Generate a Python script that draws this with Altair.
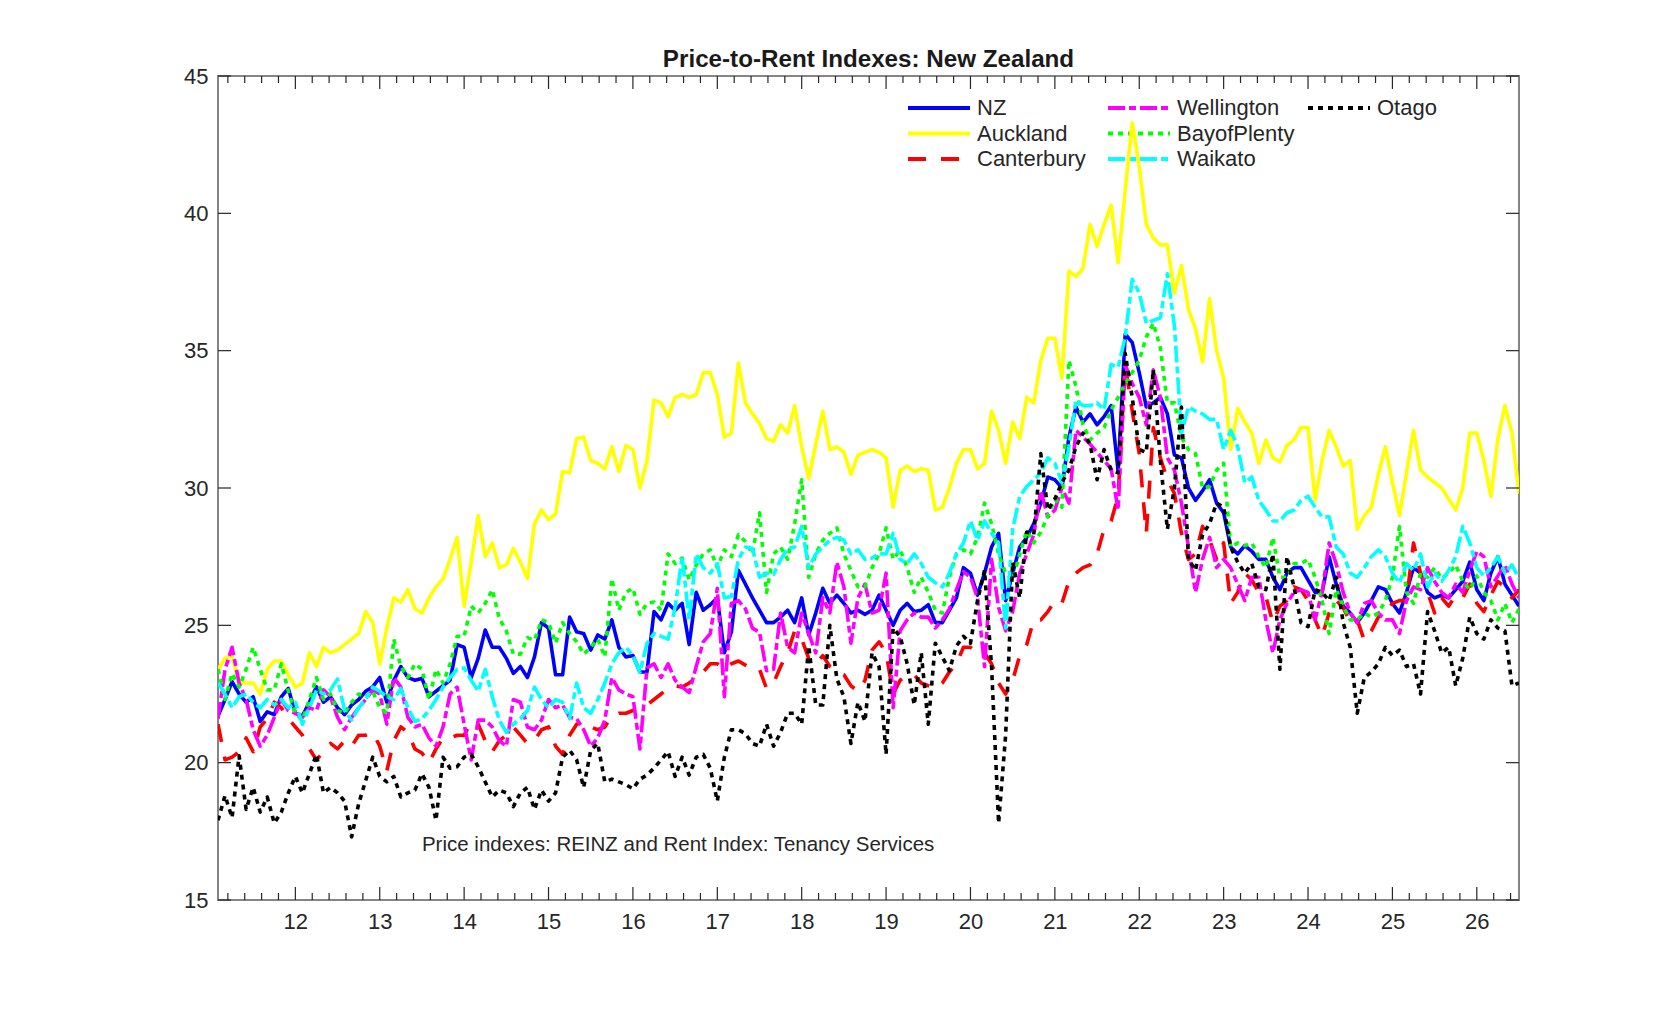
import altair as alt
import pandas as pd

FONT = "Liberation Sans, Arial, Helvetica, sans-serif"
TXT = "#262626"

TITLE = "Price-to-Rent Indexes: New Zealand"
NOTE = "Price indexes: REINZ and Rent Index: Tenancy Services"

SERIES = ["NZ", "Auckland", "Canterbury", "Wellington", "BayofPlenty", "Waikato", "Otago"]
COLORS = ["#0000ff", "#ffff00", "#ff0000", "#ff00ff", "#00ff00", "#00ffff", "#000000"]
DASHES = [[1, 0], [1, 0], [18, 15], [17, 4, 7, 4], [5, 5], [17, 4, 7, 4], [5, 5]]

# monthly observations, Feb 2011 .. Jul 2026 (one line per calendar year)
FIRST_YEAR, FIRST_MONTH = 2011, 2

NZ = [
    21.7, 22.3, 22.95, 22.5, 22.2, 22.4, 21.5, 21.85, 21.75, 22.4, 22.7,
    21.8, 21.7, 22.2, 22.76, 22.2, 22.4, 22.0, 21.75, 22.1, 22.3, 22.6, 22.76,
    23.1, 22.2, 23.0, 23.5, 23.1, 23.0, 23.07, 22.4, 22.6, 22.8, 23.0, 24.3,
    24.2, 23.1, 23.8, 24.83, 24.2, 24.2, 23.8, 23.25, 23.5, 23.1, 23.85, 25.1,
    24.9, 23.2, 23.2, 25.3, 24.76, 24.7, 24.1, 24.65, 24.5, 25.2, 24.2, 23.85,
    23.9, 23.3, 23.3, 25.5, 25.2, 25.8, 25.55, 25.8, 24.3, 26.2, 25.55, 25.75,
    26.0, 24.0, 24.76, 27.0, 26.5, 26.0, 25.55, 25.1, 25.1, 25.3, 25.55, 25.1,
    26.0, 24.65, 25.45, 26.35, 25.8, 26.1, 25.8, 25.45, 25.55, 25.4, 25.55, 26.1,
    25.55, 25.0, 25.55, 25.8, 25.5, 25.55, 25.75, 25.1, 25.1, 25.55, 26.0, 27.1,
    26.9, 26.1, 26.9, 27.85, 28.35, 25.9, 26.9, 27.85, 28.2, 28.7, 29.45, 30.4,
    30.3, 30.0, 31.85, 32.95, 32.4, 32.7, 32.3, 32.6, 33.0, 30.6, 35.6, 35.3,
    34.2, 32.95, 33.1, 33.3, 32.7, 31.2, 31.1, 30.0, 29.55, 29.9, 30.3, 29.45,
    29.1, 27.85, 27.6, 27.9, 27.7, 27.4, 27.4, 26.75, 26.3, 26.9, 27.1, 27.1,
    26.65, 26.2, 26.2, 27.5, 26.5, 25.7, 25.45, 25.1, 25.45, 25.9, 26.4, 26.3,
    25.8, 25.45, 26.2, 27.1, 26.9, 26.2, 26.0, 26.1, 26.0, 26.3, 26.6, 27.3,
    26.3, 25.9, 26.9, 27.5, 26.5, 26.1, 25.7,
]

AUCKLAND = [
    23.4, 23.8, 23.9, 22.9, 22.9, 22.9, 22.5, 23.4, 23.7, 23.7, 23.2,
    22.75, 22.9, 24.0, 23.5, 24.2, 24.0, 24.1, 24.3, 24.5, 24.7, 25.5, 25.1,
    23.6, 24.9, 26.0, 25.85, 26.3, 25.6, 25.45, 26.0, 26.4, 26.7, 27.4, 28.2,
    25.7, 27.3, 29.0, 27.5, 28.0, 27.1, 27.2, 27.8, 27.3, 26.7, 28.7, 29.2,
    28.85, 29.05, 30.6, 30.55, 31.8, 31.85, 31.0, 30.9, 30.7, 31.5, 30.6, 31.55,
    31.4, 30.0, 31.0, 33.2, 33.1, 32.6, 33.3, 33.4, 33.3, 33.4, 34.2, 34.2,
    33.4, 31.85, 32.0, 34.55, 33.1, 32.7, 32.35, 31.8, 31.7, 32.3, 32.0, 33.0,
    31.5, 30.35, 31.6, 32.8, 31.4, 31.5, 31.3, 30.5, 31.2, 31.3, 31.4, 31.3,
    31.1, 29.3, 30.65, 30.8, 30.6, 30.7, 30.65, 29.2, 29.3, 30.0, 30.9, 31.4,
    31.4, 30.7, 30.9, 32.8, 32.1, 30.9, 32.4, 31.8, 33.3, 33.1, 34.65, 35.45,
    35.45, 34.0, 37.9, 37.7, 38.0, 39.6, 38.8, 39.6, 40.3, 38.2, 40.85, 43.3,
    41.7, 39.6, 39.1, 38.85, 38.85, 37.1, 38.1, 36.5, 35.8, 34.6, 36.9, 35.0,
    34.0, 31.4, 32.9, 32.4, 32.0, 30.9, 31.75, 31.1, 30.95, 31.55, 31.75, 32.2,
    32.2, 29.55, 31.0, 32.1, 31.5, 30.8, 31.0, 28.5, 29.0, 29.3, 30.5, 31.5,
    30.2, 29.0, 30.55, 32.1, 30.65, 30.4, 30.2, 30.0, 29.6, 29.2, 30.0, 32.0,
    32.0, 31.0, 29.7, 31.8, 33.0, 32.0, 29.8,
]

CANTERBURY = [
    21.4, 20.1, 20.2, 20.4, 20.9, 20.4, 21.3, 21.6, 22.2, 22.0, 21.6,
    21.3, 21.0, 20.5, 20.1, 20.4, 20.7, 20.5, 20.8, 20.6, 21.0, 21.0, 21.1,
    20.6, 19.7, 20.8, 21.3, 21.1, 20.5, 20.35, 20.0, 20.5, 20.9, 20.9, 21.0,
    21.0, 21.5, 21.4, 20.8, 20.4, 20.8, 21.0, 21.3, 21.0, 20.7, 20.8, 21.2,
    21.3, 20.6, 20.3, 21.0, 21.4, 21.5, 21.3, 21.2, 21.3, 21.7, 21.8, 21.8,
    21.9, 22.0, 22.1, 22.3, 22.5, 22.7, 22.8, 22.75, 22.9, 23.1, 23.3, 23.6,
    23.6, 23.4, 23.6, 23.7, 23.55, 23.4, 23.4, 22.7, 22.9, 23.5, 24.0, 24.8,
    24.5, 23.8, 23.6, 23.9, 23.5, 23.3, 23.2, 22.8, 22.6, 23.0, 24.1, 24.4,
    24.0, 22.5, 23.0, 23.2, 23.2, 22.9, 22.8, 22.7, 22.9, 23.3, 23.6, 24.2,
    24.2, 24.0, 24.0, 23.6, 22.9, 22.5, 23.0, 23.9, 24.3, 25.2, 25.2, 25.5,
    25.9, 25.8, 26.6, 26.9, 27.1, 27.2, 27.6, 28.5, 28.8, 29.7, 34.5, 32.8,
    31.25, 28.35, 32.2, 31.1, 30.3, 29.8, 28.35, 27.4, 27.6, 28.6, 28.1, 27.4,
    28.0, 25.8, 26.2, 26.9, 26.65, 26.2, 26.05, 25.1, 25.7, 25.9, 26.4, 26.3,
    25.9, 25.2, 24.6, 25.45, 25.9, 25.65, 25.1, 25.2, 24.45, 24.8, 25.3, 25.45,
    25.8, 25.9, 25.9, 28.0, 26.9, 26.2, 25.45, 26.0, 25.7, 26.1, 26.0, 26.5,
    25.8, 25.5, 26.1, 26.6, 26.4, 26.0, 26.3,
]

WELLINGTON = [
    21.6, 23.4, 24.2, 22.9, 22.3, 21.2, 20.6, 21.0, 21.65, 22.3, 21.9,
    21.8, 21.65, 22.0, 21.9, 22.65, 22.4, 21.65, 21.2, 21.65, 22.0, 22.3, 22.65,
    22.5, 21.4, 23.1, 22.75, 21.65, 21.3, 21.4, 20.9, 20.6, 21.3, 22.5, 22.75,
    21.4, 20.1, 21.55, 21.55, 21.3, 20.8, 20.6, 22.3, 22.2, 21.3, 21.2, 21.55,
    22.3, 22.0, 22.1, 21.65, 21.6, 21.2, 20.6, 20.9, 21.55, 23.1, 22.65, 22.5,
    22.4, 20.5, 23.45, 23.6, 23.1, 23.6, 23.0, 22.75, 22.55, 23.5, 24.4, 24.7,
    26.35, 22.4, 25.8, 25.9, 25.6, 24.9, 24.75, 23.35, 23.4, 25.45, 24.2, 24.0,
    25.45, 24.7, 24.0, 26.0, 25.45, 27.3, 26.4, 24.35, 26.0, 26.5, 25.45, 25.55,
    26.9, 22.0, 24.8, 25.2, 25.45, 25.3, 25.3, 24.9, 25.2, 25.6, 26.3, 26.95,
    26.75, 26.0, 23.5, 27.4, 25.65, 24.8, 25.5, 26.9, 27.6, 28.3, 29.9, 28.95,
    29.2, 30.0, 29.45, 32.1, 31.85, 31.6, 31.3, 31.0, 30.7, 29.2, 34.5, 33.8,
    33.3, 32.3, 34.3, 33.3, 31.1, 30.65, 29.45, 27.85, 26.2, 27.4, 28.2, 27.1,
    27.4, 27.1, 26.5, 25.9, 26.75, 26.75, 25.2, 24.0, 25.2, 25.8, 26.2, 26.3,
    26.2, 25.2, 26.2, 28.0, 27.25, 26.2, 25.45, 25.1, 25.8, 25.9, 25.45, 25.2,
    25.2, 24.7, 25.9, 26.4, 26.3, 27.1, 26.6, 26.2, 26.0, 26.5, 26.2, 27.0,
    27.7, 27.5, 26.4, 26.8, 27.2, 26.5, 26.0,
]

BAYOFPLENTY = [
    23.4, 22.3, 23.25, 22.75, 23.4, 24.2, 23.4, 22.65, 22.65, 23.6, 22.6,
    21.8, 21.55, 22.3, 23.1, 22.3, 22.5, 21.9, 21.8, 22.2, 22.5, 22.4, 22.6,
    22.0, 21.8, 24.5, 23.5, 23.1, 23.6, 23.4, 22.3, 23.4, 22.9, 23.6, 24.6,
    24.6, 25.7, 25.45, 25.8, 26.3, 25.25, 24.8, 23.95, 23.95, 24.55, 24.45, 25.2,
    25.1, 24.35, 25.1, 24.7, 24.4, 23.95, 24.2, 24.5, 23.85, 26.7, 25.55, 26.2,
    26.35, 25.4, 25.8, 25.85, 25.55, 27.6, 27.25, 27.45, 26.65, 27.2, 27.6, 27.75,
    27.1, 27.75, 27.5, 28.3, 28.05, 27.6, 29.1, 26.2, 27.6, 27.85, 27.4, 28.7,
    30.3, 26.75, 27.6, 28.1, 28.35, 28.55, 27.6, 27.0, 26.4, 26.4, 27.1, 27.6,
    28.55, 27.4, 27.75, 27.1, 26.2, 26.75, 26.2, 25.55, 25.45, 26.75, 27.6, 27.75,
    27.6, 28.2, 29.45, 28.7, 27.6, 26.9, 26.65, 27.6, 28.45, 28.0, 28.4, 29.0,
    29.6, 29.3, 34.65, 33.7, 32.3, 31.75, 32.0, 32.2, 32.85, 33.3, 33.8, 34.2,
    34.65, 35.5, 36.0, 35.1, 33.1, 33.1, 31.85, 31.4, 31.25, 30.0, 30.05, 30.65,
    30.9, 27.85, 28.0, 27.9, 28.0, 27.5, 27.1, 28.2, 26.75, 26.75, 27.25, 27.25,
    27.4, 26.75, 25.9, 24.7, 26.3, 25.7, 25.2, 25.2, 25.45, 25.3, 25.45, 25.9,
    26.75, 28.6, 26.2, 25.8, 26.9, 26.75, 27.1, 26.7, 26.9, 27.2, 26.6, 26.3,
    26.8, 26.2, 25.9, 25.2, 25.8, 25.1, 25.6,
]

WAIKATO = [
    22.9, 22.5, 22.0, 22.4, 22.5, 22.2, 22.0, 22.3, 22.1, 22.3, 22.0,
    22.2, 21.4, 22.0, 22.65, 22.5, 22.65, 23.05, 21.9, 21.55, 22.0, 22.3, 22.75,
    22.6, 22.4, 22.3, 22.7, 22.0, 21.5, 21.6, 21.9, 22.3, 22.75, 23.1, 23.4,
    23.45, 23.0, 22.6, 23.4, 22.4, 21.55, 21.1, 21.4, 21.6, 21.9, 22.75, 22.3,
    22.0, 22.3, 22.2, 21.6, 22.9, 22.0, 21.8, 22.3, 22.9, 23.6, 24.0, 24.2,
    23.9, 23.3, 24.35, 24.7, 24.6, 24.5, 25.65, 27.5, 25.2, 27.6, 27.1, 26.9,
    27.25, 26.0, 26.05, 27.4, 27.85, 27.8, 26.75, 26.9, 26.85, 27.4, 27.8, 27.85,
    28.6, 27.1, 27.6, 27.85, 28.1, 28.2, 28.1, 27.6, 27.75, 27.4, 27.45, 27.6,
    27.6, 28.35, 27.4, 27.25, 27.6, 27.25, 26.75, 26.55, 26.4, 26.9, 27.6, 28.0,
    28.8, 28.1, 28.8, 28.35, 28.0, 24.9, 28.5, 29.7, 30.05, 30.3, 30.55, 31.1,
    30.9, 30.2, 31.5, 33.2, 33.0, 33.0, 33.1, 32.85, 34.5, 34.4, 35.5, 37.6,
    37.1, 36.0, 36.1, 36.2, 37.8, 35.9, 32.0, 32.95, 32.8, 32.7, 32.5, 32.5,
    31.4, 32.1, 31.5, 30.2, 30.4, 29.55, 29.2, 28.8, 28.8, 29.1, 29.2, 29.55,
    29.7, 29.3, 28.95, 28.95, 27.85, 27.6, 26.9, 26.75, 27.1, 27.5, 27.75, 27.5,
    26.9, 26.55, 27.25, 27.0, 27.6, 26.4, 26.9, 26.6, 27.0, 27.5, 28.6, 28.0,
    27.1, 26.8, 27.1, 27.5, 26.9, 27.2, 26.7,
]

OTAGO = [
    17.9, 18.8, 18.0, 20.25, 18.3, 19.1, 18.2, 18.75, 17.8, 18.2, 18.9,
    19.5, 18.9, 19.6, 20.3, 18.9, 19.1, 18.9, 18.6, 17.3, 18.5, 19.35, 20.2,
    19.5, 19.3, 19.5, 18.75, 18.9, 19.0, 19.6, 19.1, 17.9, 20.2, 19.8, 19.85,
    20.2, 20.3, 19.85, 19.3, 18.75, 19.0, 18.9, 18.4, 18.9, 19.1, 18.3, 19.0,
    18.6, 18.9, 20.2, 20.45, 20.1, 19.1, 20.45, 20.7, 19.3, 19.4, 19.3, 19.2,
    19.05, 19.4, 19.55, 19.8, 20.1, 20.4, 19.5, 20.2, 19.55, 20.2, 20.3, 19.8,
    18.6, 20.2, 21.2, 21.2, 21.05, 20.7, 20.6, 21.4, 20.6, 21.1, 21.8, 21.8,
    21.4, 24.25, 22.1, 22.1, 25.0, 23.05, 22.4, 20.7, 22.2, 21.5, 24.0, 23.5,
    20.3, 24.9, 24.6, 23.6, 22.1, 24.0, 21.4, 24.35, 23.85, 23.35, 24.25, 24.6,
    24.35, 25.9, 27.0, 23.5, 17.8, 21.0, 27.3, 26.0, 28.4, 28.3, 31.25, 29.2,
    29.6, 30.2, 30.65, 31.5, 32.0, 31.6, 30.3, 31.4, 30.65, 30.55, 34.9, 33.3,
    31.4, 31.3, 34.3, 31.0, 28.5, 30.0, 32.95, 27.4, 27.0, 28.3, 28.7, 29.45,
    29.3, 27.85, 27.3, 26.9, 27.25, 26.4, 26.3, 27.6, 23.4, 27.5, 26.4, 25.1,
    24.95, 26.3, 26.2, 25.9, 26.75, 25.1, 24.2, 21.8, 23.1, 23.3, 23.6, 24.2,
    23.9, 24.1, 23.5, 23.6, 22.5, 25.5, 24.8, 24.0, 24.2, 22.8, 23.8, 25.3,
    24.7, 24.5, 25.2, 24.9, 24.8, 22.8, 22.9,
]

VALUES = [NZ, AUCKLAND, CANTERBURY, WELLINGTON, BAYOFPLENTY, WAIKATO, OTAGO]

X_MAJOR = list(range(12, 27))
X_MINOR = [v / 5 for v in range(56, 133) if v % 5]
Y_TICKS = [15, 20, 25, 30, 35, 40, 45]

# ---------------------------------------------------------------- data table
rows = []
for name, vals in zip(SERIES, VALUES):
    assert len(vals) == 186, (name, len(vals))
    for i, v in enumerate(vals):
        t = (FIRST_YEAR - 2000) + (FIRST_MONTH - 1 + i) / 12
        rows.append({"t": t, "value": v, "series": name})
df = pd.DataFrame(rows)

W, H = 1301, 824
XS = alt.Scale(domain=[11 + 1 / 12, 26.5], nice=False, zero=False)
YS = alt.Scale(domain=[15, 45], nice=False, zero=False)

XAX = alt.Axis(values=X_MAJOR, format="d", ticks=False, tickSize=0, domain=False,
               grid=False, title=None, labelFont=FONT, labelFontSize=22,
               labelColor=TXT, labelPadding=11, labelFlush=False)
YAX = alt.Axis(values=Y_TICKS, format="d", ticks=False, tickSize=0, domain=False,
               grid=False, title=None, labelFont=FONT, labelFontSize=22,
               labelColor=TXT, labelPadding=10)


def X(field):
    return alt.X(f"{field}:Q", scale=XS, axis=XAX)


def Y(field):
    return alt.Y(f"{field}:Q", scale=YS, axis=YAX)


layers = []

# ---------------------------------------------------------------- legend (3 columns, column-major)
leg = pd.DataFrame({"series": SERIES})
leg["col"] = [i // 3 for i in range(len(SERIES))]
leg["row"] = [i % 3 for i in range(len(SERIES))]
LEG_X0, LEG_DX, LEG_Y0, LEG_DY, SYM_LEN, LAB_OFF = 690, 200, 32, 25.5, 62, 69
legbase = alt.Chart(leg).transform_calculate(
    lx0=f"{LEG_X0} + datum.col * {LEG_DX}",
    lx1=f"{LEG_X0} + datum.col * {LEG_DX} + {SYM_LEN}",
    ltx=f"{LEG_X0} + datum.col * {LEG_DX} + {LAB_OFF}",
    ly=f"{LEG_Y0} + datum.row * {LEG_DY}",
)
for name, col, dash in zip(SERIES, COLORS, DASHES):
    layers.append(
        legbase.transform_filter(alt.datum.series == name)
        .mark_rule(color=col, strokeDash=dash, strokeWidth=3.8)
        .encode(x=alt.X("lx0:Q", scale=None), x2="lx1:Q", y=alt.Y("ly:Q", scale=None))
    )
layers.append(
    legbase.mark_text(align="left", baseline="middle", font=FONT, fontSize=22, color=TXT)
    .encode(x=alt.X("ltx:Q", scale=None), y=alt.Y("ly:Q", scale=None), text="series:N")
)

# ---------------------------------------------------------------- series lines
for name, col, dash in zip(SERIES, COLORS, DASHES):
    layers.append(
        alt.Chart(df)
        .transform_filter(alt.datum.series == name)
        .mark_line(color=col, strokeDash=dash, strokeWidth=3.6, strokeJoin="round", clip=True)
        .encode(x=X("t"), y=Y("value"))
    )

# ---------------------------------------------------------------- inward ticks (box style)
TICK = dict(color="#262626", strokeWidth=1.2)
MAJ, MIN = 13, 7
for data, ln in ((X_MAJOR, MAJ), (X_MINOR, MIN)):
    tdf = pd.DataFrame({"v": data})
    layers.append(alt.Chart(tdf).mark_rule(**TICK).encode(
        x=X("v"), y=alt.value(H), y2=alt.value(H - ln)))
    layers.append(alt.Chart(tdf).mark_rule(**TICK).encode(
        x=X("v"), y=alt.value(0), y2=alt.value(ln)))
ydf = pd.DataFrame({"v": Y_TICKS})
layers.append(alt.Chart(ydf).mark_rule(**TICK).encode(
    y=Y("v"), x=alt.value(0), x2=alt.value(MAJ)))
layers.append(alt.Chart(ydf).mark_rule(**TICK).encode(
    y=Y("v"), x=alt.value(W), x2=alt.value(W - MAJ)))

# ---------------------------------------------------------------- source note (data coords)
note = pd.DataFrame({"t": [13.5], "value": [17.0], "label": [NOTE]})
layers.append(
    alt.Chart(note).mark_text(align="left", baseline="middle", font=FONT, fontSize=20.5, color=TXT)
    .encode(x=X("t"), y=Y("value"), text="label:N")
)

chart = (
    alt.layer(*layers)
    .properties(
        width=W,
        height=H,
        title=alt.TitleParams(TITLE, font=FONT, fontSize=24.2, fontWeight="bold",
                              color="#1a1a1a", anchor="middle", frame="group",
                              baseline="alphabetic", offset=5, dy=31),
        padding={"left": 210, "top": 68, "right": 150, "bottom": 100},
        autosize=alt.AutoSizeParams(type="none"),
        background="white",
    )
    .configure_view(stroke="#858585", strokeWidth=2)
)

chart.save("out.html", embed_options={"renderer": "svg", "actions": False})
